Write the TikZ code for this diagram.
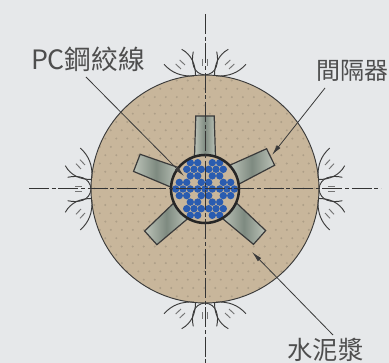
\documentclass[tikz,border=0pt]{standalone}
\usepackage{fontspec}
\setmainfont{Noto Sans CJK TC}
\definecolor{bgc}{HTML}{E6E8EA}
\definecolor{cem}{HTML}{C8B69B}
\definecolor{dotc}{HTML}{AD9E87}
\definecolor{ink}{HTML}{3A3A3A}
\definecolor{wire}{HTML}{2A5CB0}
\definecolor{spl}{HTML}{BCC3B8}
\definecolor{spd}{HTML}{7E8A80}
\tikzset{
  x=0.75pt,y=-0.75pt,
  label text/.style={font=\fontsize{20pt}{21pt}\selectfont,text=ink!90,inner sep=0pt,anchor=center},
  leader/.style={draw=ink,line width=0.6pt,-{Latex[length=8pt,width=3.5pt]}},
  axisline/.style={draw=ink!90!black,line width=0.75pt,dash pattern=on 15pt off 2pt on 3pt off 2pt},
  breakline/.style={draw=ink,line width=0.7pt},
  tickline/.style={draw=ink!70,line width=0.7pt},
  spacer/.style={draw=ink,line width=0.9pt,left color=spl,right color=spl,middle color=spd},
}
\usetikzlibrary{arrows.meta}
\begin{document}
\begin{tikzpicture}
\useasboundingbox (0,0) rectangle (389,363);
\fill[bgc] (0,0) rectangle (389,363);
\clip (0,0) rectangle (389,363);
\coordinate (c) at (205,189);
% cement body
\fill[cem] (c) circle[radius=114];
\begin{scope}
\clip (c) circle[radius=114];
\foreach \i in {0,...,22}{
  \foreach \j in {0,...,29}{
    \pgfmathsetmacro{\xx}{83.3+11*\i+mod(\j,2)*5.5}
    \pgfmathsetmacro{\yy}{72.2+8.3*\j}
    \fill[dotc] (\xx,\yy) circle[radius=1.1];
  }
}
\end{scope}
\draw[ink,line width=0.7pt] (c) circle[radius=114];
% spacers
\foreach \a in {0,-64,69,132,-131.6}{
  \begin{scope}[shift={(205,189)},rotate=\a]
    \path[spacer] (-10.5,-32) -- (-9.2,-73) -- (9.2,-73) -- (10.5,-32) -- cycle;
  \end{scope}
}
% inner circle
\fill[cem] (c) circle[radius=34];
% wires
\foreach \gx/\gy in {0/0,-22/0,22/0,-11/-19.7,11/-19.7,-11/19.7,11/19.7}{
  \foreach \wx/\wy in {0/0,-7.3/0,7.3/0,-3.7/-6.6,3.7/-6.6,-3.7/6.6,3.7/6.6}{
    \fill[wire] (205+\gx+\wx,189+\gy+\wy) circle[radius=3.7];
  }
}
\draw[black!85,line width=1.9pt] (c) circle[radius=34];
% centre lines
\coordinate (vt) at (205,14);
\coordinate (vb) at (205,363);
\coordinate (hl) at (29,189);
\coordinate (hr) at (381,189);
\path[axisline] (vt) -- (vb);
\path[axisline] (hl) -- (hr);
% break marks
\foreach \a in {0,90,180,270}{
  \begin{scope}[shift={(205,189)},rotate=\a]
    \foreach \s in {-1,1}{
      \begin{scope}[xscale=\s]
      \draw[breakline] (-41,-124.7) .. controls (-33,-116) and (-24,-112.5) .. (-11,-113);
      \draw[breakline] (-23.3,-139.7) .. controls (-13,-134) and (-9.5,-124) .. (-9.5,-113.5);
      \draw[breakline] (-11.7,-137.3) .. controls (-14,-127) and (-12,-115) .. (0,-114);
      \draw[tickline] (-25.3,-129) -- (-20,-124);
      \draw[tickline] (-29.3,-125) -- (-24,-120);
      \draw[tickline,line width=1pt] (-2.7,-130) -- (-2.7,-123);
      \end{scope}
    }
  \end{scope}
}
% labels and leaders
\node[label text] (pc) at (88,59) {PC鋼絞線};
\node[label text,font=\fontsize{18pt}{19pt}\selectfont] (sp) at (352.5,71) {間隔器};
\node[label text,font=\fontsize{19pt}{20pt}\selectfont] (cm) at (325.5,350) {水泥漿};
\coordinate (pcs) at (86,77);
\coordinate (pce) at (184,176);
\coordinate (sps) at (325,88);
\coordinate (spe) at (272,155);
\coordinate (cms) at (333,335);
\coordinate (cme) at (252,252);
\path[leader] (pcs) -- (pce);
\path[leader] (sps) -- (spe);
\path[leader] (cms) -- (cme);
\end{tikzpicture}
\end{document}
